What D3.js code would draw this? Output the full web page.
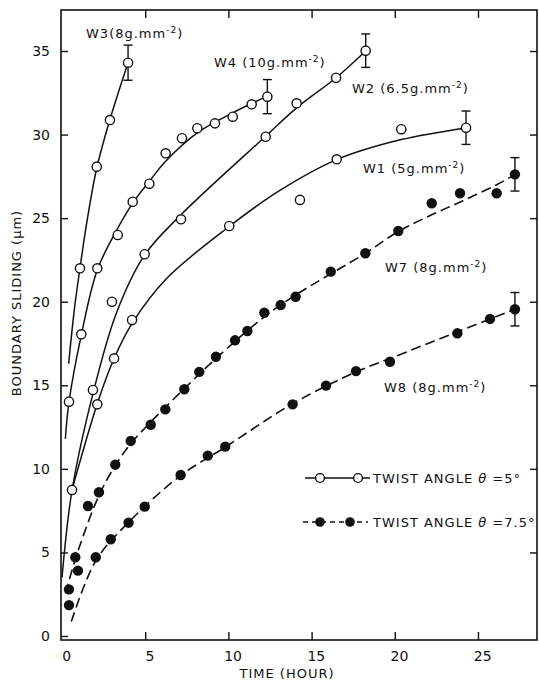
<!DOCTYPE html>
<head>
<meta charset="utf-8">
<script src="https://d3js.org/d3.v7.min.js"></script>
<style>
  body { margin: 0; background: #fff; }
  svg text { font-family: "DejaVu Sans", sans-serif; fill: #111; }
  .tick line { stroke: #111; stroke-width: 1.4; }
  .tick text { font-size: 14px; }
  .lbl { font-size: 13px; letter-spacing: 1px; }
</style>
</head>
<body>
<div id="chart"></div>
<script>
// open circles (twist angle 5 deg): [hour, micrometre]
var w3Points = [[1.08,22.0],[2.09,28.08],[2.88,30.87],[3.97,34.3]];
var w4Points = [[0.42,14.02],[1.16,18.05],[2.12,22.0],[3.35,23.99],[4.25,25.98],[5.25,27.06],[6.23,28.88],
                [7.21,29.78],[8.13,30.38],[9.19,30.67],[10.26,31.07],[11.4,31.81],[12.34,32.27]];
var w2Points = [[1.86,14.72],[3.0,20.0],[4.97,22.84],[7.15,24.93],[12.24,29.87],[14.1,31.87],[16.47,33.4],[18.25,35.02]];
var w1Points = [[0.6,8.74],[2.12,13.86],[3.13,16.61],[4.21,18.91],[10.05,24.53],[14.3,26.09],[16.51,28.52],[20.39,30.32],[24.28,30.41]];
// filled circles (twist angle 7.5 deg)
var w7Points = [[0.42,2.79],[0.8,4.71],[0.96,3.91],[1.56,7.78],[2.22,8.6],[3.2,10.25],[4.13,11.67],[5.33,12.64],
                [6.21,13.56],[7.35,14.76],[8.25,15.8],[9.25,16.71],[10.4,17.69],[11.14,18.25],[12.16,19.34],
                [13.14,19.8],[14.04,20.3],[16.15,21.8],[18.23,22.9],[20.21,24.23],[22.22,25.89],[23.92,26.49],
                [26.12,26.49],[27.22,27.62]];
var w8Points = [[0.42,1.85],[2.03,4.71],[2.93,5.79],[4.0,6.78],[4.97,7.74],[7.13,9.63],[8.76,10.79],[9.81,11.33],
                [13.86,13.86],[15.87,14.98],[17.67,15.85],[19.71,16.41],[23.76,18.11],[25.72,18.97],[27.22,19.55]];

// fitted curves as drawn
var w3Curve = [[0.4,16.3],[0.75,19.6],[1.08,22.0],[1.5,24.8],[2.09,28.0],[2.88,30.9],[3.97,34.3]];
var w4Curve = [[0.2,11.8],[0.42,14.0],[1.16,18.0],[2.12,21.9],[3.35,24.4],[4.25,25.9],[5.25,27.2],[6.23,28.4],
               [8.13,30.1],[10.26,31.3],[12.34,32.3]];
var w2Curve = [[0,3.5],[0.6,8.7],[1.86,14.5],[3.26,19.3],[4.97,22.8],[7.15,25.2],[12.24,29.9],[14.1,31.6],
               [16.47,33.4],[18.25,35.0]];
var w1Curve = [[0.6,8.74],[2.12,13.9],[3.13,16.6],[4.21,18.7],[6.3,21.4],[10.05,24.5],[13,26.6],[16.51,28.5],
               [20.39,29.7],[24.28,30.4]];
var w7Curve = [[0.2,2.55],[1.0,5.2],[2.22,8.4],[3.2,10.2],[4.13,11.5],[5.33,12.8],[7.35,14.8],[9.25,16.6],
               [12.16,19.1],[14.04,20.4],[18.23,22.9],[20.21,24.2],[22.22,25.2],[24,26.0],[26.12,27.0],[27.22,27.6]];
var w8Curve = [[0.56,0.86],[2.03,4.5],[4.0,6.8],[7.13,9.6],[9.81,11.3],[13.86,13.9],[17.67,15.8],[19.71,16.6],
               [23.76,18.2],[27.22,19.55]];

// error bars: [hour, value, half range]
var errBars = [[3.97,34.3,1.05],[12.34,32.27,1.02],[18.25,35.02,1.0],[24.28,30.41,1.0],[27.22,27.62,1.0],[27.22,19.55,1.0]];

var xTicks = [0,5,10,15,20,25];
var yTicks = [0,5,10,15,20,25,30,35];

var width = 539, height = 686;
var frame = {left: 61, right: 537, top: 10, bottom: 640};

var svg = d3.select("#chart").append("svg")
    .attr("width", width)
    .attr("height", height);

var x = d3.scaleLinear().domain([0, 25]).range([62, 478]);
var y = d3.scaleLinear().domain([0, 35]).range([636, 51]);

// frame
svg.append("rect")
    .attr("x", frame.left).attr("y", frame.top)
    .attr("width", frame.right - frame.left).attr("height", frame.bottom - frame.top)
    .style("fill", "none").style("stroke", "#111").style("stroke-width", 1.6);

// axes, ticks pointing inward
var bottom = svg.append("g")
    .attr("transform", "translate(0," + frame.bottom + ")")
    .call(d3.axisBottom(x).tickValues(xTicks).tickSize(-8).tickPadding(11));
bottom.selectAll(".tick text").attr("dx", "0.3em");
bottom.selectAll(".tick").filter(function(d) { return d === 0; }).select("line").remove();

svg.append("g")
    .attr("transform", "translate(0," + frame.top + ")")
    .call(d3.axisTop(x).tickValues(xTicks.slice(1)).tickSize(-8).tickFormat(""));

svg.append("g")
    .attr("transform", "translate(" + frame.left + ",0)")
    .call(d3.axisLeft(y).tickValues(yTicks).tickSize(-7).tickPadding(11));

svg.append("g")
    .attr("transform", "translate(" + frame.right + ",0)")
    .call(d3.axisRight(y).tickValues(yTicks.slice(1)).tickSize(-7).tickFormat(""));

svg.selectAll(".domain").remove();

// axis titles
svg.append("text")
    .attr("class", "lbl")
    .attr("transform", "translate(21,303) rotate(-90)")
    .style("text-anchor", "middle")
    .text("BOUNDARY SLIDING (\u03bcm)");
svg.append("text")
    .attr("class", "lbl")
    .attr("x", 287).attr("y", 678)
    .style("text-anchor", "middle")
    .text("TIME (HOUR)");

var line = d3.line()
    .x(function(d) { return x(d[0]); })
    .y(function(d) { return y(d[1]); })
    .curve(d3.curveCatmullRom.alpha(0.5));

[w3Curve, w4Curve, w2Curve, w1Curve].forEach(function(c) {
  svg.append("path").datum(c).attr("d", line)
      .style("fill", "none").style("stroke", "#111").style("stroke-width", 1.5);
});
[w7Curve, w8Curve].forEach(function(c) {
  svg.append("path").datum(c).attr("d", line)
      .style("fill", "none").style("stroke", "#111").style("stroke-width", 1.6)
      .style("stroke-dasharray", "10,5");
});

// error bars
var eb = svg.append("g").style("stroke", "#111").style("stroke-width", 1.4);
errBars.forEach(function(e) {
  eb.append("line").attr("x1", x(e[0])).attr("x2", x(e[0]))
      .attr("y1", y(e[1] + e[2])).attr("y2", y(e[1] - e[2]));
  [e[1] + e[2], e[1] - e[2]].forEach(function(v) {
    eb.append("line").attr("x1", x(e[0]) - 4.5).attr("x2", x(e[0]) + 4.5)
        .attr("y1", y(v)).attr("y2", y(v));
  });
});

// points
[w3Points, w4Points, w2Points, w1Points].forEach(function(p) {
  svg.append("g").selectAll("circle").data(p).enter().append("circle")
      .attr("cx", function(d) { return x(d[0]); })
      .attr("cy", function(d) { return y(d[1]); })
      .attr("r", 4.6)
      .style("fill", "#fff").style("stroke", "#111").style("stroke-width", 1.4);
});
[w7Points, w8Points].forEach(function(p) {
  svg.append("g").selectAll("circle").data(p).enter().append("circle")
      .attr("cx", function(d) { return x(d[0]); })
      .attr("cy", function(d) { return y(d[1]); })
      .attr("r", 5.2)
      .style("fill", "#111");
});

// series labels
function seriesLabel(px, py, name) {
  var t = svg.append("text").attr("class", "lbl").attr("x", px).attr("y", py);
  t.append("tspan").text(name + "g.mm");
  t.append("tspan").attr("dy", -5).style("font-size", "9px").text("-2");
  t.append("tspan").attr("dy", 5).text(")");
}
seriesLabel(86, 38, "W3(8");
seriesLabel(214, 67, "W4 (10");
seriesLabel(352, 93, "W2 (6.5");
seriesLabel(363, 173, "W1 (5");
seriesLabel(385, 272, "W7 (8");
seriesLabel(384, 392, "W8 (8");

// legend
svg.append("line").attr("x1", 305).attr("x2", 370).attr("y1", 478).attr("y2", 478)
    .style("stroke", "#111").style("stroke-width", 1.4);
[320, 358].forEach(function(cx) {
  svg.append("circle").attr("cx", cx).attr("cy", 478).attr("r", 4.4)
      .style("fill", "#fff").style("stroke", "#111").style("stroke-width", 1.4);
});
svg.append("line").attr("x1", 303).attr("x2", 368).attr("y1", 522).attr("y2", 522)
    .style("stroke", "#111").style("stroke-width", 1.5).style("stroke-dasharray", "5,4");
[320, 350].forEach(function(cx) {
  svg.append("circle").attr("cx", cx).attr("cy", 522).attr("r", 4.8).style("fill", "#111");
});
function legendText(py, val) {
  var t = svg.append("text").attr("class", "lbl").attr("x", 373).attr("y", py + 5);
  t.append("tspan").text("TWIST ANGLE ");
  t.append("tspan").style("font-style", "italic").text("\u03b8");
  t.append("tspan").text(" =" + val + "\u00b0");
}
legendText(478, "5");
legendText(522, "7.5");
</script>
</body>
